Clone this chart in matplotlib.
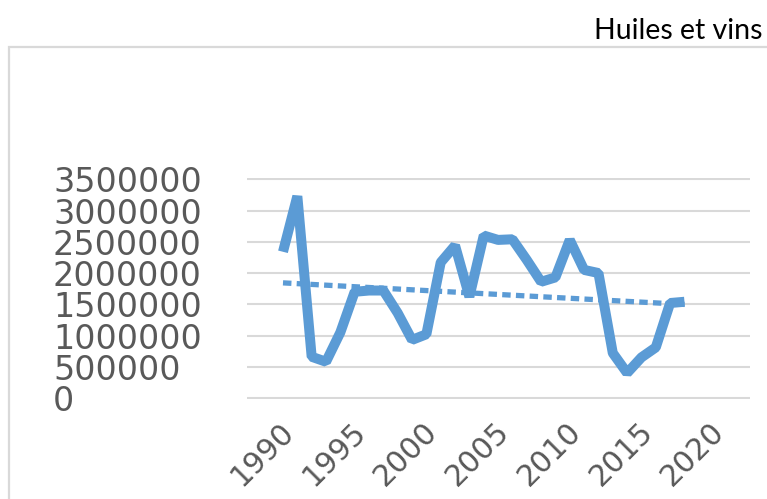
import numpy as np
import matplotlib.pyplot as plt
import matplotlib.transforms as mtransforms
from matplotlib.patches import Rectangle

years = list(range(1990, 2019))
values = [2340000, 3230000, 660000, 580000, 1050000, 1700000, 1720000, 1720000,
          1360000, 930000, 1020000, 2170000, 2440000, 1620000, 2600000, 2530000,
          2540000, 2210000, 1860000, 1930000, 2530000, 2050000, 2000000, 720000,
          400000, 650000, 810000, 1520000, 1540000]
yticks = [0, 500000, 1000000, 1500000, 2000000, 2500000, 3000000, 3500000]
xticks = [1990, 1995, 2000, 2005, 2010, 2015, 2020]
title = 'Huiles et vins'

blue = '#5B9BD5'
grey = '#595959'

fig = plt.figure(figsize=(7.67, 4.99), dpi=100)

# light frame of the chart area, running off the right and bottom edges
fig.patches.append(Rectangle((9 / 767, -0.2), 1.2, 0.2 + (499 - 47) / 499,
                             transform=fig.transFigure, fill=False,
                             edgecolor='#D9D9D9', linewidth=1.6))

ax = fig.add_axes([247 / 767, (499 - 399.25) / 499, 503 / 767, 221.2 / 499])
ax.set_xlim(1987.49, 2022.57)
ax.set_ylim(-20000, 3520000)

ax.plot(years, values, color=blue, linewidth=7.2, solid_capstyle='butt',
        solid_joinstyle='bevel')

slope, intercept = np.polyfit(years, values, 1)
trend = [slope * yr + intercept for yr in years]
ax.plot(years, trend, color=blue, linewidth=3.8, dashes=(1.6, 1.0),
        dash_capstyle='butt')

ax.set_yticks(yticks)
ax.set_yticklabels([str(v) for v in yticks])
ax.set_xticks(xticks)
ax.set_xticklabels([str(v) for v in xticks], rotation=45, ha='right',
                   va='center', rotation_mode='anchor')

ax.grid(axis='y', color='#D9D9D9', linewidth=1.5)
ax.set_axisbelow(True)
for side in ax.spines.values():
    side.set_visible(False)

ax.tick_params(axis='y', length=0, pad=139.7, labelsize=24, labelcolor=grey)
ax.tick_params(axis='x', length=0, pad=20, labelsize=21.5, labelcolor=grey)
for lab in ax.get_yticklabels():
    lab.set_horizontalalignment('left')
shift = mtransforms.ScaledTranslation(5 / 72, 0, fig.dpi_scale_trans)
for lab in ax.get_xticklabels():
    lab.set_transform(lab.get_transform() + shift)

fig.text(763 / 767, 1 - 31 / 499, title, ha='right', va='center',
         fontsize=20.5, family='Lato', color='black')

fig.savefig('out.png', dpi=100)
